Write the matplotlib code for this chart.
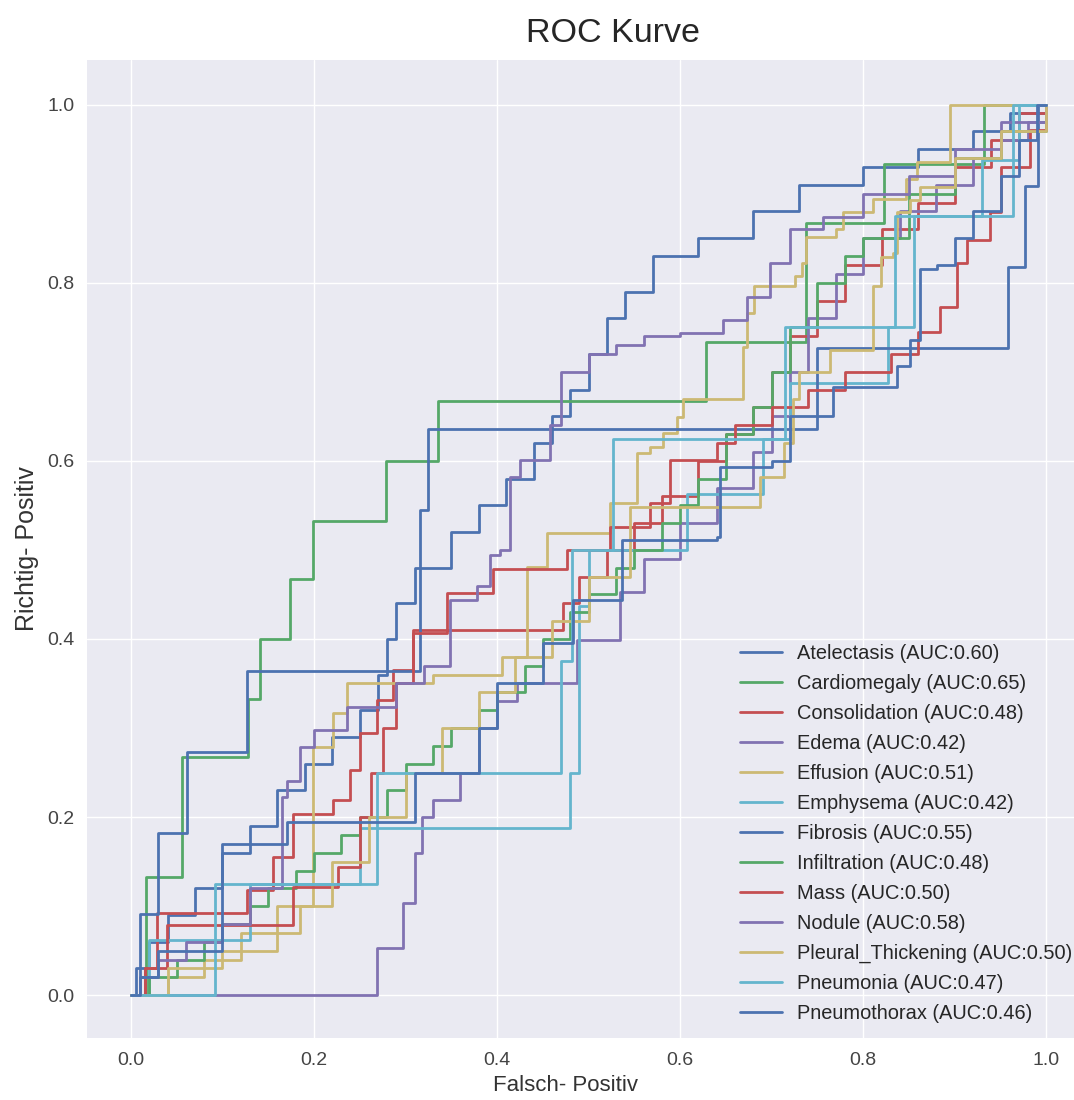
import matplotlib
matplotlib.use("Agg")
import matplotlib.pyplot as plt

# ROC operating points per finding (top of each vertical step)
atelectasis_fpr = [0.0, 0.005, 0.02, 0.04, 0.07, 0.10, 0.13, 0.16, 0.19, 0.22, 0.25, 0.27, 0.28, 0.29, 0.31,
                   0.35, 0.38, 0.41, 0.44, 0.46, 0.48, 0.50, 0.52, 0.54, 0.57, 0.62, 0.68, 0.73, 0.80, 0.86,
                   0.92, 0.96, 1.0]
atelectasis_tpr = [0.0, 0.03, 0.06, 0.09, 0.12, 0.16, 0.19, 0.23, 0.26, 0.29, 0.32, 0.36, 0.40, 0.44, 0.48,
                   0.52, 0.55, 0.58, 0.62, 0.65, 0.68, 0.72, 0.76, 0.79, 0.83, 0.85, 0.88, 0.91, 0.93, 0.95,
                   0.97, 0.99, 1.0]

cardiomegaly_fpr = [0.0, 0.017, 0.056, 0.128, 0.141, 0.174, 0.199, 0.279, 0.336, 0.628, 0.738, 0.823, 0.932, 1.0]
cardiomegaly_tpr = [0.0, 0.133, 0.267, 0.333, 0.400, 0.467, 0.533, 0.600, 0.667, 0.733, 0.867, 0.933, 1.0, 1.0]

consolidation_fpr = [0.0, 0.015, 0.028, 0.127, 0.155, 0.177, 0.221, 0.239, 0.25, 0.269, 0.286, 0.308, 0.472,
                     0.49, 0.52, 0.55, 0.58, 0.62, 0.65, 0.68, 0.70, 0.72, 0.75, 0.78, 0.82, 0.86, 0.90, 0.94,
                     0.97, 1.0]
consolidation_tpr = [0.0, 0.03, 0.092, 0.118, 0.155, 0.204, 0.219, 0.253, 0.294, 0.331, 0.365, 0.41, 0.44,
                     0.47, 0.50, 0.53, 0.56, 0.60, 0.63, 0.66, 0.70, 0.74, 0.78, 0.82, 0.86, 0.89, 0.93, 0.96,
                     0.99, 1.0]

edema_fpr = [0.0, 0.269, 0.297, 0.31, 0.318, 0.33, 0.36, 0.38, 0.40, 0.422, 0.487, 0.534, 0.56, 0.60, 0.64,
             0.68, 0.70, 0.72, 0.74, 0.77, 0.80, 0.84, 0.88, 0.92, 0.95, 0.98, 1.0]
edema_tpr = [0.0, 0.053, 0.103, 0.16, 0.20, 0.219, 0.25, 0.30, 0.33, 0.351, 0.399, 0.453, 0.49, 0.53, 0.57,
             0.61, 0.65, 0.70, 0.76, 0.81, 0.85, 0.88, 0.91, 0.94, 0.96, 0.98, 1.0]

effusion_fpr = [0.0, 0.04, 0.08, 0.12, 0.16, 0.199, 0.221, 0.236, 0.33, 0.405, 0.433, 0.455, 0.523, 0.553,
                0.567, 0.581, 0.597, 0.603, 0.669, 0.673, 0.681, 0.726, 0.733, 0.738, 0.77, 0.778, 0.811,
                0.847, 0.859, 0.895, 1.0]
effusion_tpr = [0.0, 0.02, 0.04, 0.07, 0.10, 0.279, 0.317, 0.351, 0.36, 0.38, 0.481, 0.519, 0.553, 0.609,
                0.616, 0.631, 0.649, 0.669, 0.728, 0.766, 0.796, 0.807, 0.822, 0.851, 0.86, 0.879, 0.894,
                0.916, 0.935, 1.0, 1.0]

emphysema_fpr = [0.0, 0.02, 0.13, 0.25, 0.48, 0.49, 0.50, 0.608, 0.69, 0.72, 0.827, 0.855, 0.93, 0.97, 1.0]
emphysema_tpr = [0.0, 0.0625, 0.125, 0.1875, 0.25, 0.4375, 0.5, 0.5625, 0.625, 0.6875, 0.75, 0.875, 0.9375,
                 1.0, 1.0]

fibrosis_fpr = [0.0, 0.01, 0.03, 0.061, 0.127, 0.316, 0.325, 0.75, 0.958, 0.977, 0.991, 1.0]
fibrosis_tpr = [0.0, 0.091, 0.182, 0.273, 0.364, 0.545, 0.636, 0.727, 0.818, 0.909, 1.0, 1.0]

infiltration_fpr = [0.0, 0.02, 0.05, 0.08, 0.1, 0.13, 0.15, 0.18, 0.2, 0.23, 0.25, 0.28, 0.3, 0.33, 0.35,
                    0.38, 0.4, 0.43, 0.45, 0.48, 0.5, 0.53, 0.55, 0.58, 0.6, 0.62, 0.65, 0.68, 0.7, 0.72,
                    0.75, 0.78, 0.8, 0.85, 0.9, 0.95, 1.0]
infiltration_tpr = [0.0, 0.02, 0.04, 0.06, 0.08, 0.1, 0.12, 0.14, 0.16, 0.18, 0.2, 0.23, 0.26, 0.28, 0.3,
                    0.32, 0.34, 0.37, 0.4, 0.43, 0.45, 0.48, 0.5, 0.53, 0.55, 0.58, 0.63, 0.66, 0.7, 0.75,
                    0.8, 0.83, 0.85, 0.9, 0.94, 0.97, 1.0]

mass_fpr = [0.0, 0.015, 0.039, 0.177, 0.226, 0.25, 0.262, 0.275, 0.29, 0.308, 0.345, 0.396, 0.476, 0.523,
            0.567, 0.589, 0.64, 0.66, 0.70, 0.74, 0.78, 0.83, 0.86, 0.884, 0.903, 0.913, 0.939, 0.95, 0.982,
            1.0]
mass_tpr = [0.0, 0.03, 0.079, 0.121, 0.144, 0.2, 0.25, 0.3, 0.35, 0.407, 0.452, 0.478, 0.5, 0.526, 0.553,
            0.601, 0.62, 0.64, 0.66, 0.68, 0.70, 0.72, 0.745, 0.773, 0.822, 0.848, 0.879, 0.93, 0.972, 1.0]

nodule_fpr = [0.0, 0.01, 0.03, 0.06, 0.10, 0.13, 0.165, 0.17, 0.185, 0.20, 0.236, 0.29, 0.32, 0.349, 0.378,
              0.392, 0.403, 0.414, 0.425, 0.458, 0.47, 0.50, 0.53, 0.56, 0.60, 0.647, 0.673, 0.698, 0.72,
              0.756, 0.80, 0.85, 0.90, 0.95, 1.0]
nodule_tpr = [0.0, 0.02, 0.04, 0.06, 0.08, 0.12, 0.222, 0.241, 0.279, 0.298, 0.324, 0.35, 0.37, 0.444, 0.46,
              0.494, 0.50, 0.582, 0.601, 0.64, 0.70, 0.72, 0.73, 0.74, 0.744, 0.758, 0.784, 0.822, 0.86,
              0.874, 0.90, 0.92, 0.95, 0.98, 1.0]

pleural_fpr = [0.0, 0.04, 0.10, 0.16, 0.185, 0.22, 0.26, 0.30, 0.34, 0.38, 0.42, 0.46, 0.50, 0.545, 0.687,
               0.713, 0.723, 0.73, 0.764, 0.811, 0.819, 0.833, 0.837, 0.851, 0.862, 0.90, 0.95, 1.0]
pleural_tpr = [0.0, 0.03, 0.05, 0.07, 0.10, 0.15, 0.20, 0.25, 0.30, 0.34, 0.38, 0.42, 0.47, 0.548, 0.582,
               0.62, 0.669, 0.70, 0.725, 0.796, 0.829, 0.833, 0.879, 0.893, 0.908, 0.94, 0.97, 1.0]

pneumonia_fpr = [0.0, 0.092, 0.269, 0.47, 0.482, 0.527, 0.715, 0.835, 0.964, 1.0]
pneumonia_tpr = [0.0, 0.125, 0.25, 0.375, 0.5, 0.625, 0.75, 0.875, 1.0, 1.0]

pneumothorax_fpr = [0.0, 0.01, 0.03, 0.1, 0.17, 0.31, 0.38, 0.4, 0.45, 0.483, 0.537, 0.64, 0.644, 0.7, 0.72,
                    0.767, 0.837, 0.851, 0.862, 0.881, 0.9, 0.92, 0.95, 0.97, 0.99, 1.0]
pneumothorax_tpr = [0.0, 0.02, 0.05, 0.17, 0.195, 0.25, 0.30, 0.35, 0.396, 0.444, 0.511, 0.515, 0.593, 0.6,
                    0.65, 0.683, 0.706, 0.736, 0.815, 0.82, 0.85, 0.88, 0.92, 0.96, 1.0, 1.0]

labels = ["Atelectasis", "Cardiomegaly", "Consolidation", "Edema", "Effusion", "Emphysema", "Fibrosis",
          "Infiltration", "Mass", "Nodule", "Pleural_Thickening", "Pneumonia", "Pneumothorax"]
aucs = [0.60, 0.65, 0.48, 0.42, 0.51, 0.42, 0.55, 0.48, 0.50, 0.58, 0.50, 0.47, 0.46]
curves = [
    (atelectasis_fpr, atelectasis_tpr),
    (cardiomegaly_fpr, cardiomegaly_tpr),
    (consolidation_fpr, consolidation_tpr),
    (edema_fpr, edema_tpr),
    (effusion_fpr, effusion_tpr),
    (emphysema_fpr, emphysema_tpr),
    (fibrosis_fpr, fibrosis_tpr),
    (infiltration_fpr, infiltration_tpr),
    (mass_fpr, mass_tpr),
    (nodule_fpr, nodule_tpr),
    (pleural_fpr, pleural_tpr),
    (pneumonia_fpr, pneumonia_tpr),
    (pneumothorax_fpr, pneumothorax_tpr),
]

plt.style.use("seaborn-v0_8")
plt.rcParams["font.family"] = ["Liberation Sans", "DejaVu Sans"]

fig = plt.figure(figsize=(10.74, 11.0), dpi=100)
ax = fig.add_axes([0.081, 0.0564, 0.9358, 0.889])

for (fpr, tpr), name, auc in zip(curves, labels, aucs):
    ax.plot(fpr, tpr, drawstyle="steps-post", lw=2.0,
            label="%s (AUC:%0.2f)" % (name, auc))

ax.set_xlim(-0.048, 1.05)
ax.set_ylim(-0.048, 1.05)
ax.tick_params(axis="both", labelsize=14, labelcolor="#444444")
ax.tick_params(axis="x", pad=10)
ax.tick_params(axis="y", pad=9)
ax.set_xlabel("Falsch- Positiv", fontsize=16, color="#333333", labelpad=3)
ax.set_ylabel("Richtig- Positiv", fontsize=18, color="#333333", labelpad=6)
ax.xaxis.set_label_coords(0.476, -0.038)
ax.set_title("ROC Kurve", fontsize=24.5, x=0.523, pad=13)
ax.legend(loc="lower left", bbox_to_anchor=(0.682, 0.0625), bbox_transform=fig.transFigure,
          fontsize=14.4, handlelength=2.1, handletextpad=0.75, labelspacing=0.55,
          frameon=False, borderaxespad=0)

fig.savefig("out.png", dpi=100)
